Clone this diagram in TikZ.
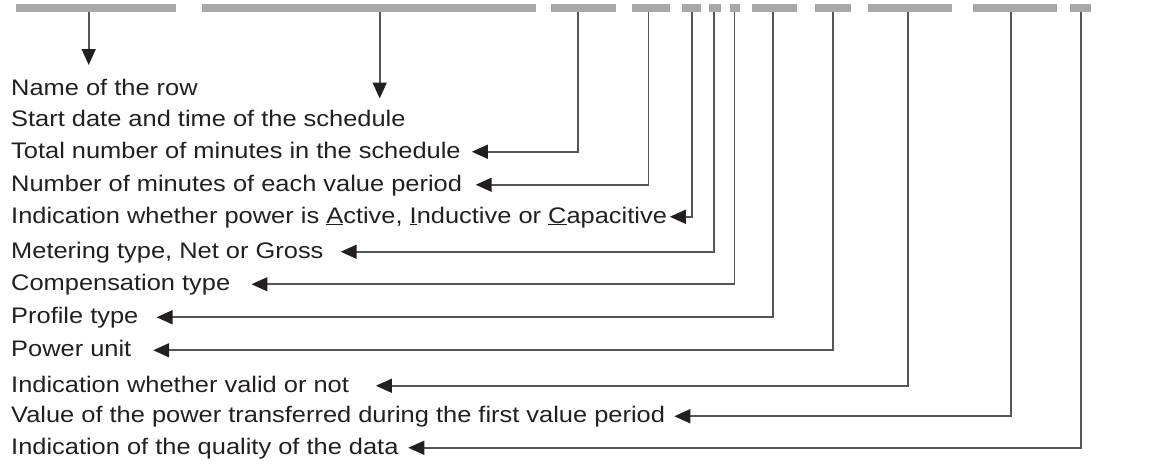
\documentclass[tikz,border=0pt]{standalone}
\usepackage{fontspec}
\setmainfont[FakeStretch=1.13]{Liberation Sans}
\usetikzlibrary{arrows.meta}

\definecolor{barcol}{HTML}{A8A8A8}
\definecolor{linecol}{HTML}{555555}
\definecolor{inkcol}{HTML}{231F20}

\tikzset{
	field/.style={fill=barcol, draw=none, inner sep=0pt, minimum height=8pt},
	rowtext/.style={anchor=base west, inner sep=0pt, text=inkcol, font=\fontsize{22.5}{26}\selectfont},
	pointer/.style={draw=linecol, line width=1.6pt, -{Triangle[length=16pt,width=14pt,color=inkcol]}}
}

\begin{document}
\begin{tikzpicture}[x=1pt,y=-1pt]
%	frame
	\useasboundingbox (0,0) rectangle (1161,466);

%	fields of the row
	\node[field, minimum width=160.3pt] (b1) at (95.85,8) {};
	\node[field, minimum width=333.7pt] (b2) at (369.15,8) {};
	\node[field, minimum width=65.2pt] (b3) at (583.1,8) {};
	\node[field, minimum width=38.6pt] (b4) at (651,8) {};
	\node[field, minimum width=19pt] (b5) at (691.2,8) {};
	\node[field, minimum width=11.4pt] (b6) at (715,8) {};
	\node[field, minimum width=10.3pt] (b7) at (735.15,8) {};
	\node[field, minimum width=45.3pt] (b8) at (774.35,8) {};
	\node[field, minimum width=36pt] (b9) at (833.3,8) {};
	\node[field, minimum width=84.3pt] (b10) at (909.85,8) {};
	\node[field, minimum width=84pt] (b11) at (1014.7,8) {};
	\node[field, minimum width=21.3pt] (b12) at (1080.35,8) {};

%	where the lines leave the fields
	\coordinate (p1) at (88.7,12);
	\coordinate (p2) at (379.7,12);
	\coordinate (p3) at (577.7,12);
	\coordinate (p4) at (648.3,12);
	\coordinate (p5) at (691.8,12);
	\coordinate (p6) at (714,12);
	\coordinate (p7) at (734.6,12);
	\coordinate (p8) at (772.7,12);
	\coordinate (p9) at (832.8,12);
	\coordinate (p10) at (907.7,12);
	\coordinate (p11) at (1010.7,12);
	\coordinate (p12) at (1080.7,12);

%	descriptions
	\node[rowtext] (t1) at (11,95) {Name of the row};
	\node[rowtext] (t2) at (11,126.7) {Start date and time of the schedule};
	\node[rowtext] (t3) at (11,158) {Total number of minutes in the schedule};
	\node[rowtext] (t4) at (11,191) {Number of minutes of each value period};
	\node[rowtext] (t5) at (11,223) {Indication whether power is \underline{A}ctive, \underline{I}nductive or \underline{C}apacitive};
	\node[rowtext] (t6) at (11,258) {Metering type, Net or Gross};
	\node[rowtext] (t7) at (11,290.5) {Compensation type};
	\node[rowtext] (t8) at (11,323.5) {Profile type};
	\node[rowtext] (t9) at (11,356.5) {Power unit};
	\node[rowtext] (t10) at (11,392) {Indication whether valid or not};
	\node[rowtext] (t11) at (11,422.5) {Value of the power transferred during the first value period};
	\node[rowtext] (t12) at (11,454) {Indication of the quality of the data};

%	arrows
	\coordinate (e1) at (88.7,65);
	\coordinate (e2) at (379.7,98.5);
	\draw[pointer] (p1) -- (e1);
	\draw[pointer] (p2) -- (e2);

	\foreach \i/\gap in {3/11,4/13.5,5/2.7,6/17,7/21,8/18,9/21.7,10/26.7,11/9,12/9.6}
		\draw[pointer] (p\i) |- ([xshift=\gap pt,yshift=3.6pt]t\i.mid east);

\end{tikzpicture}
\end{document}
